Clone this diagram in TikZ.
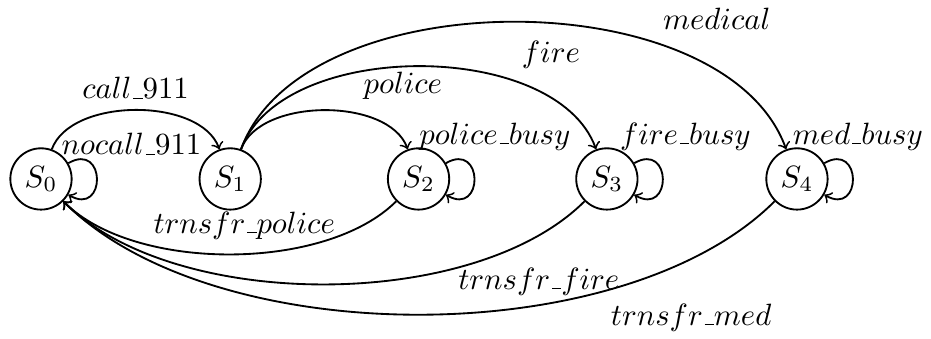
\documentclass[tikz,border=0pt]{standalone}
\usepackage{tikz}

\newcommand{\undsc}{\mbox{\kern.06em\vbox{\hrule width.3em}}}

\begin{document}
\begin{tikzpicture}[
  statenode/.style={draw, circle, semithick, minimum size=0.7cm, inner sep=1pt},
  transarrow/.style={->, semithick},
  selfloop/.style={out=30, in=-30, min distance=5mm, shorten >=1pt}
]
  \useasboundingbox (-0.468,-1.826) rectangle (10.16,2.043);

  \node[statenode] (s0) at (0,0) {$S_0$};
  \node[statenode] (s1) at (2.16,0) {$S_1$};
  \node[statenode] (s2) at (4.31,0) {$S_2$};
  \node[statenode] (s3) at (6.46,0) {$S_3$};
  \node[statenode] (s4) at (8.63,0) {$S_4$};

  % dispatch
  \draw[transarrow] (s0) to[bend left=70, looseness=0.85] node[midway, above] {$call\undsc 911$} (s1);
  \draw[transarrow] (s1) to[bend left=70, looseness=0.85] node[midway, above, xshift=25.5pt] {$police$} (s2);
  \draw[transarrow] (s1) to[bend left=70, looseness=0.85] node[midway, xshift=43pt, yshift=3.7pt] {$fire$} (s3);
  \draw[transarrow] (s1) to[bend left=70, looseness=0.85] node[midway, xshift=66pt, yshift=1pt] {$medical$} (s4);

  % waiting
  \draw[transarrow] (s0) to[selfloop] node[pos=0, xshift=20.5pt, yshift=6.2pt] {$nocall\undsc 911$} (s0);
  \draw[transarrow] (s2) to[selfloop] node[pos=0, xshift=15.9pt, yshift=8.6pt] {$police\undsc busy$} (s2);
  \draw[transarrow] (s3) to[selfloop] node[pos=0, xshift=16.6pt, yshift=8.6pt] {$fire\undsc busy$} (s3);
  \draw[transarrow] (s4) to[selfloop] node[pos=0, xshift=10.9pt, yshift=8.6pt] {$med\undsc busy$} (s4);

  % transfer back
  \draw[transarrow] (s2) to[bend left=45, looseness=0.77] node[midway, xshift=4.7pt, yshift=9.3pt] {$trnsfr\undsc police$} (s0);
  \draw[transarrow] (s3) to[bend left=45, looseness=0.77] node[midway, xshift=69.8pt, yshift=0.9pt] {$trnsfr\undsc fire$} (s0);
  \draw[transarrow] (s4) to[bend left=45, looseness=0.77] node[midway, xshift=88.4pt, yshift=-1pt] {$trnsfr\undsc med$} (s0);
\end{tikzpicture}
\end{document}
